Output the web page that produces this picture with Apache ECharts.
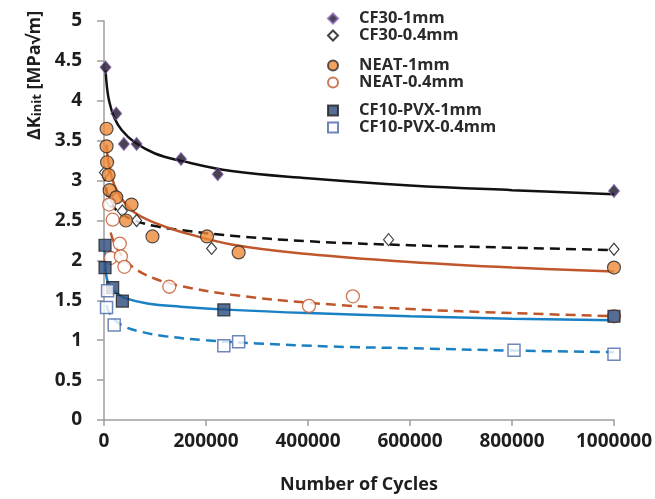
<!DOCTYPE html>
<html>
<head>
<meta charset="utf-8">
<script src="https://cdn.jsdelivr.net/npm/echarts@6/dist/echarts.min.js"></script>
<style>
  html, body { margin: 0; padding: 0; background: #fff; }
  #main { width: 655px; height: 499px; }
</style>
</head>
<body>
<div id="main"></div>
<script>
// 轴刻度
const xTicks = [0, 200000, 400000, 600000, 800000, 1000000];
const yTicks = [0, 0.5, 1, 1.5, 2, 2.5, 3, 3.5, 4, 4.5, 5];

// 测试点 [cycles, dK]
const cf30_1mm = [[3000, 4.42], [24000, 3.84], [39000, 3.46], [64000, 3.46], [151000, 3.27], [223000, 3.08], [1000000, 2.87]];
const cf30_04mm = [[1000, 3.10], [13000, 2.74], [36000, 2.62], [64000, 2.50], [211000, 2.15], [558000, 2.26], [1000000, 2.14]];
const neat_1mm = [[5000, 3.65], [5000, 3.43], [6000, 3.23], [9000, 3.07], [11000, 2.88], [24000, 2.79], [43000, 2.50], [54000, 2.70], [95000, 2.30], [202000, 2.30], [264000, 2.10], [1000000, 1.91]];
const neat_04mm = [[10000, 2.70], [17000, 2.51], [31000, 2.21], [13000, 2.03], [33000, 2.05], [40000, 1.92], [128000, 1.67], [402000, 1.43], [488000, 1.55], [1000000, 1.30]];
const pvx_1mm = [[2000, 2.19], [2000, 1.91], [17000, 1.66], [36000, 1.49], [235000, 1.38], [1000000, 1.30]];
const pvx_04mm = [[7000, 1.62], [5000, 1.41], [20000, 1.19], [235000, 0.93], [264000, 0.98], [804000, 0.875], [1000000, 0.825]];

// 趋势线
const cf30_1mm_fit = [[3000, 4.38], [6000, 4.16], [10000, 4.00], [20000, 3.79], [35000, 3.63], [60000, 3.48], [100000, 3.34], [150000, 3.25], [250000, 3.12], [400000, 3.03], [600000, 2.94], [800000, 2.88], [1000000, 2.83]];
const cf30_04mm_fit = [[1000, 3.12], [3000, 2.95], [6000, 2.84], [10000, 2.76], [20000, 2.66], [35000, 2.58], [60000, 2.50], [100000, 2.43], [150000, 2.38], [250000, 2.31], [400000, 2.24], [600000, 2.19], [800000, 2.16], [1000000, 2.13]];
const neat_1mm_fit = [[5000, 3.45], [10000, 3.18], [20000, 2.95], [35000, 2.77], [60000, 2.60], [100000, 2.47], [150000, 2.36], [250000, 2.20], [400000, 2.08], [600000, 1.98], [800000, 1.91], [1000000, 1.86]];
const neat_04mm_fit = [[13000, 2.35], [20000, 2.22], [35000, 2.06], [60000, 1.90], [100000, 1.77], [150000, 1.68], [250000, 1.57], [400000, 1.47], [600000, 1.39], [800000, 1.34], [1000000, 1.30]];
const pvx_1mm_fit = [[1500, 2.12], [3000, 1.90], [6000, 1.76], [13000, 1.66], [25000, 1.59], [40000, 1.53], [85000, 1.46], [150000, 1.42], [250000, 1.38], [400000, 1.34], [600000, 1.30], [800000, 1.27], [1000000, 1.25]];
const pvx_04mm_fit = [[5000, 1.44], [10000, 1.35], [20000, 1.26], [40000, 1.17], [70000, 1.11], [120000, 1.05], [200000, 1.00], [300000, 0.96], [450000, 0.92], [600000, 0.90], [800000, 0.87], [1000000, 0.85]];

const FONT = 'Open Sans';
const TXT = '#1e1e1e';

function fit(data, color, dashed) {
  return {
    type: 'line', data: data, smooth: 0.4, showSymbol: false, z: 2, silent: true,
    lineStyle: { color: color, width: 2.5, type: dashed ? [10, 6] : 'solid' }
  };
}
function pts(name, data, symbol, size, style) {
  return { name: name, type: 'scatter', data: data, symbol: symbol, symbolSize: size, z: 5, itemStyle: style };
}
function legend(top, names) {
  return {
    orient: 'vertical', left: 322, top: top, itemWidth: 10, itemHeight: 10, itemGap: 0,
    data: names,
    textStyle: { fontFamily: FONT, fontWeight: 'bold', fontSize: 16.5, color: '#2a2a2a', lineHeight: 17, padding: [0, 0, 0, 16] }
  };
}

const myChart = echarts.init(document.getElementById('main'));
const option = {
  animation: false,
  grid: { left: 104, right: 41, top: 21, bottom: 78 },
  legend: [
    legend(5, ['CF30-1mm', 'CF30-0.4mm']),
    legend(52, ['NEAT-1mm', 'NEAT-0.4mm']),
    legend(97, ['CF10-PVX-1mm', 'CF10-PVX-0.4mm'])
  ],
  xAxis: {
    type: 'value', min: xTicks[0], max: xTicks[xTicks.length - 1], interval: xTicks[1] - xTicks[0],
    name: 'Number of Cycles', nameLocation: 'middle', nameGap: 56,
    nameTextStyle: { fontFamily: FONT, fontWeight: 'bold', fontSize: 18, color: TXT },
    axisLine: { lineStyle: { color: '#a09c98', width: 1.5 } },
    axisTick: { show: true, length: 6, lineStyle: { color: '#a09c98', width: 1.5 } },
    axisLabel: { fontFamily: FONT, fontWeight: 'bold', fontSize: 19, color: TXT, margin: 12, formatter: v => String(v) },
    splitLine: { show: false }
  },
  yAxis: {
    type: 'value', min: yTicks[0], max: yTicks[yTicks.length - 1], interval: yTicks[1] - yTicks[0],
    name: 'ΔK{sub|init} [MPa√m]', nameLocation: 'middle', nameGap: 53, nameRotate: 90,
    nameTextStyle: {
      fontFamily: FONT, fontWeight: 'bold', fontSize: 18, color: TXT, padding: [0, 0, 0, 290],
      rich: { sub: { fontFamily: FONT, fontWeight: 'bold', fontSize: 13, color: TXT, verticalAlign: 'bottom', padding: [6, 0, 0, 0] } }
    },
    axisLine: { show: true, lineStyle: { color: '#a09c98', width: 1.5 } },
    axisTick: { show: true, length: 7, lineStyle: { color: '#a09c98', width: 1.5 } },
    axisLabel: { fontFamily: FONT, fontWeight: 'bold', fontSize: 19, color: TXT, margin: 22 },
    splitLine: { show: false }
  },
  series: [
    fit(cf30_1mm_fit, '#111111', false),
    fit(cf30_04mm_fit, '#111111', true),
    fit(neat_1mm_fit, '#c0562b', false),
    fit(neat_04mm_fit, '#c0562b', true),
    fit(pvx_1mm_fit, '#1a80c4', false),
    fit(pvx_04mm_fit, '#1a80c4', true),
    pts('CF30-1mm', cf30_1mm, 'diamond', [11, 13], { color: '#1c1428', borderColor: '#8a68b8', borderWidth: 1 }),
    pts('CF30-0.4mm', cf30_04mm, 'diamond', [10, 12], { color: '#ffffff', borderColor: '#111111', borderWidth: 1.2 }),
    pts('NEAT-1mm', neat_1mm, 'circle', 13, { color: '#ee8a38', borderColor: '#2a2a2a', borderWidth: 1.2 }),
    pts('NEAT-0.4mm', neat_04mm, 'circle', 13, { color: '#ffffff', borderColor: '#c0562b', borderWidth: 1.3 }),
    pts('CF10-PVX-1mm', pvx_1mm, 'rect', 12, { color: '#2c4a7c', borderColor: '#1e1e1e', borderWidth: 1.2 }),
    pts('CF10-PVX-0.4mm', pvx_04mm, 'rect', 12, { color: '#ffffff', borderColor: '#4a68a8', borderWidth: 1.5 })
  ]
};
myChart.setOption(option);
</script>
</body>
</html>
